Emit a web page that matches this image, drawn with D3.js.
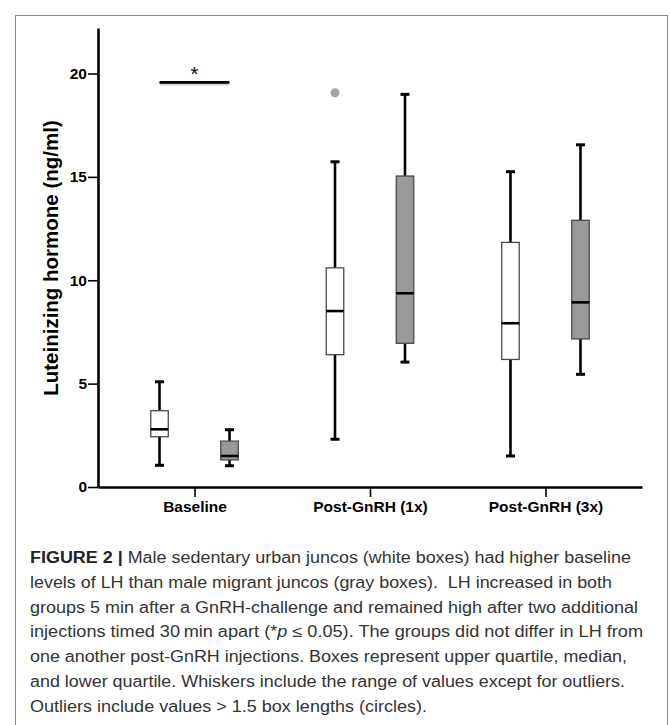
<!DOCTYPE html>
<html>
<head>
<meta charset="utf-8">
<script src="https://cdn.jsdelivr.net/npm/d3@7"></script>
<style>
  html, body { margin: 0; padding: 0; background: #fff; }
  svg { display: block; }
</style>
</head>
<body>
<script>
// ---- data ----
const categories = ["Baseline", "Post-GnRH (1x)", "Post-GnRH (3x)"];
const groups = ["urban", "migrant"];
const urbanMin    = [1.05, 2.31, 1.50];
const urbanQ1     = [2.43, 6.40, 6.17];
const urbanMedian = [2.79, 8.51, 7.92];
const urbanQ3     = [3.69, 10.60, 11.83];
const urbanMax    = [5.09, 15.73, 15.25];
const migrantMin    = [1.03, 6.04, 5.45];
const migrantQ1     = [1.31, 6.95, 7.16];
const migrantMedian = [1.50, 9.37, 8.93];
const migrantQ3     = [2.22, 15.04, 12.90];
const migrantMax    = [2.77, 18.99, 16.55];
const outlierCategory = ["Post-GnRH (1x)"];
const outlierGroup = ["urban"];
const outlierValue = [19.07];
const yTicks = [0, 5, 10, 15, 20];
const sigCategory = "Baseline";
const sigValue = 19.57;
const sigLabel = "*";
const yLabel = "Luteinizing hormone (ng/ml)";
const captionLines = [
  ["FIGURE 2 | ", "Male sedentary urban juncos (white boxes) had higher baseline"],
  ["", "levels of LH than male migrant juncos (gray boxes).\u00a0 LH increased in both"],
  ["", "groups 5 min after a GnRH-challenge and remained high after two additional"],
  ["", "injections timed 30\u2009min apart (*p \u2264 0.05). The groups did not differ in LH from"],
  ["", "one another post-GnRH injections. Boxes represent upper quartile, median,"],
  ["", "and lower quartile. Whiskers include the range of values except for outliers."],
  ["", "Outliers include values > 1.5 box lengths (circles)."]
];
const captionWidths = [601, 582, 608, 613, 597, 595, 397];

// ---- build box table ----
const boxes = [];
categories.forEach((c, i) => {
  boxes.push({cat: c, group: "urban", min: urbanMin[i], q1: urbanQ1[i], med: urbanMedian[i], q3: urbanQ3[i], max: urbanMax[i]});
  boxes.push({cat: c, group: "migrant", min: migrantMin[i], q1: migrantQ1[i], med: migrantMedian[i], q3: migrantQ3[i], max: migrantMax[i]});
});
const outliers = outlierValue.map((v, i) => ({cat: outlierCategory[i], group: outlierGroup[i], value: v}));

const W = 670, H = 725;
const svg = d3.select("body").append("svg").attr("width", W).attr("height", H);

// frame
svg.append("rect").attr("x", 15.5).attr("y", 15.5).attr("width", 652).attr("height", 740)
  .attr("fill", "none").attr("stroke", "#8a8a8a").attr("stroke-width", 1);

const font = "'Liberation Sans', Arial, Helvetica, sans-serif";

const x = d3.scalePoint().domain(categories).range([98, 642]).padding(0.55);
const off = d3.scalePoint().domain(groups).range([-35, 35]);
const y = d3.scaleLinear().domain([0, 22.2]).range([487, 28]);
const boxW = 17.5, capW = 9;

// axes
const gy = svg.append("g").attr("transform", "translate(98,0)")
  .call(d3.axisLeft(y).tickValues(yTicks).tickSize(10).tickSizeOuter(0).tickPadding(1).tickFormat(d3.format("d")));
const gx = svg.append("g").attr("transform", "translate(0,487)")
  .call(d3.axisBottom(x).tickSize(10).tickSizeOuter(0).tickPadding(4));
[gy, gx].forEach(g => {
  g.select(".domain").attr("stroke", "#000").attr("stroke-width", 2.6);
  g.selectAll(".tick line").attr("stroke", "#000").attr("stroke-width", 1.6);
  g.selectAll(".tick text").attr("fill", "#000").attr("font-family", font)
    .attr("font-weight", "bold").attr("font-size", "15.5px");
});

svg.append("text")
  .attr("transform", `translate(58,258) rotate(-90)`)
  .attr("text-anchor", "middle")
  .attr("font-family", font).attr("font-weight", "bold").attr("font-size", "20.5px")
  .attr("fill", "#000").text(yLabel);

// boxes
const bg = svg.append("g");
const cx = d => x(d.cat) + off(d.group);
const bgE = bg.selectAll("g.box").data(boxes).join("g").attr("class", "box");
// whiskers
bgE.append("line").attr("x1", cx).attr("x2", cx).attr("y1", d => y(d.q3)).attr("y2", d => y(d.max))
  .attr("stroke", "#000").attr("stroke-width", 2.6);
bgE.append("line").attr("x1", cx).attr("x2", cx).attr("y1", d => y(d.q1)).attr("y2", d => y(d.min))
  .attr("stroke", "#000").attr("stroke-width", 2.6);
bgE.append("line").attr("x1", d => cx(d) - capW / 2).attr("x2", d => cx(d) + capW / 2)
  .attr("y1", d => y(d.max)).attr("y2", d => y(d.max)).attr("stroke", "#000").attr("stroke-width", 3);
bgE.append("line").attr("x1", d => cx(d) - capW / 2).attr("x2", d => cx(d) + capW / 2)
  .attr("y1", d => y(d.min)).attr("y2", d => y(d.min)).attr("stroke", "#000").attr("stroke-width", 3);
// box
bgE.append("rect").attr("x", d => cx(d) - boxW / 2).attr("width", boxW)
  .attr("y", d => y(d.q3)).attr("height", d => y(d.q1) - y(d.q3))
  .attr("fill", d => d.group === "urban" ? "#ffffff" : "#999999")
  .attr("stroke", "#4a4a4a").attr("stroke-width", 1.3);
// median
bgE.append("line").attr("x1", d => cx(d) - boxW / 2).attr("x2", d => cx(d) + boxW / 2)
  .attr("y1", d => y(d.med)).attr("y2", d => y(d.med)).attr("stroke", "#000").attr("stroke-width", 2.6);

// outliers
svg.selectAll("circle.out").data(outliers).join("circle").attr("class", "out")
  .attr("cx", cx).attr("cy", d => y(d.value)).attr("r", 4.5).attr("fill", "#a3a3a3");

// significance bar
const sx1 = x(sigCategory) + off("urban"), sx2 = x(sigCategory) + off("migrant");
svg.append("line").attr("x1", sx1).attr("x2", sx2).attr("y1", y(sigValue) + 1.5).attr("y2", y(sigValue) + 1.5)
  .attr("stroke", "#bbb").attr("stroke-width", 3).attr("opacity", 0.6);
svg.append("line").attr("x1", sx1).attr("x2", sx2).attr("y1", y(sigValue)).attr("y2", y(sigValue))
  .attr("stroke", "#000").attr("stroke-width", 2.8);
svg.append("text").attr("x", (sx1 + sx2) / 2).attr("y", y(sigValue) - 1)
  .attr("text-anchor", "middle").attr("font-family", font).attr("font-size", "20px").attr("fill", "#000")
  .text(sigLabel);

// caption
const cap = svg.append("g");
captionLines.forEach((ln, i) => {
  const t = cap.append("text").attr("x", 30).attr("y", 563 + i * 24.8)
    .attr("font-family", font).attr("font-size", "16px").attr("fill", "#333")
    .attr("textLength", captionWidths[i]).attr("lengthAdjust", "spacingAndGlyphs");
  if (ln[0]) t.append("tspan").attr("font-weight", "bold").attr("fill", "#222").text(ln[0]);
  if (ln[1].includes("*p")) {
    const parts = ln[1].split("*p");
    t.append("tspan").text(parts[0] + "*");
    t.append("tspan").attr("font-style", "italic").text("p");
    t.append("tspan").text(parts[1]);
  } else {
    t.append("tspan").text(ln[1]);
  }
});
</script>
</body>
</html>
